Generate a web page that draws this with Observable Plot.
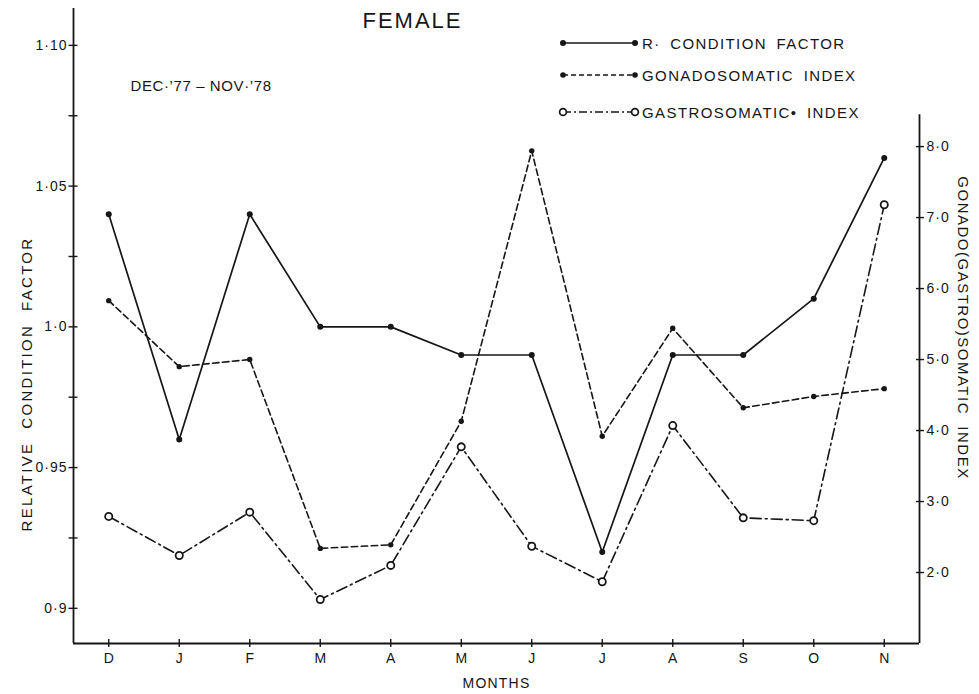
<!DOCTYPE html>
<html>
<head>
<meta charset="utf-8">
<script src="https://cdn.jsdelivr.net/npm/d3@7"></script>
<script src="https://cdn.jsdelivr.net/npm/@observablehq/plot@0.6"></script>
<style>
  html, body { margin: 0; padding: 0; background: #fff; }
  #wrap { position: relative; width: 979px; height: 694px; overflow: hidden; font-family: "Liberation Sans", Arial, sans-serif; color: #161616; }
  .lg { position: absolute; display: flex; align-items: center; height: 16px; font-size: 15px; letter-spacing: 1.4px; word-spacing: 4px; white-space: nowrap; }
  .lg svg { display: block; }
</style>
</head>
<body>
<div id="wrap">
  <div id="chart"></div>
</div>
<script>
// ---- data ----
const months = ["D", "J", "F", "M", "A", "M", "J", "J", "A", "S", "O", "N"];
const conditionFactor = [1.04, 0.96, 1.04, 1.00, 1.00, 0.99, 0.99, 0.92, 0.99, 0.99, 1.01, 1.06];
const gonadosomatic   = [5.83, 4.90, 5.00, 2.34, 2.39, 4.13, 7.94, 3.92, 5.44, 4.32, 4.48, 4.59];
const gastrosomatic   = [2.79, 2.24, 2.85, 1.62, 2.10, 3.77, 2.37, 1.87, 4.07, 2.77, 2.73, 7.18];

const leftTicks = [0.9, 0.95, 1.0, 1.05, 1.10];
const leftTickLabels = ["0·9", "0·95", "1·0", "1·05", "1·10"];
const leftMinorTicks = [0.925, 0.975, 1.025, 1.075];
const rightTicks = [2, 3, 4, 5, 6, 7, 8];
const rightTickLabels = ["2·0", "3·0", "4·0", "5·0", "6·0", "7·0", "8·0"];

const legendLabels = ["R· CONDITION FACTOR", "GONADOSOMATIC INDEX", "GASTROSOMATIC• INDEX"];
const titleText = "FEMALE";
const periodText = "DEC·’77 – NOV·’78";
const leftAxisLabel = "RELATIVE  CONDITION  FACTOR";
const rightAxisLabel = "GONADO(GASTRO)SOMATIC  INDEX";
const xAxisLabel = "MONTHS";

// ---- scales ----
const yDomain = [0.8875, 1.1131];
const rightDomainBottom = 1;           // right-axis value at the x axis
const rightToLeft = d3.scaleLinear().domain([1, 8]).range([0.8875, 0.8875 + 7 * 0.02522]);

const rows = months.map((m, i) => ({
  i,
  rcf: conditionFactor[i],
  gsi: rightToLeft(gonadosomatic[i]),
  gasi: rightToLeft(gastrosomatic[i])
}));

const leftLabelByVal = new Map(leftTicks.map((v, i) => [v, leftTickLabels[i]]));
const rightTickPos = rightTicks.map(v => rightToLeft(v));
const rightLabelByPos = new Map(rightTickPos.map((p, i) => [p, rightTickLabels[i]]));
const idx = d3.range(months.length);

const ink = "#161616";
const font = "Liberation Sans, Arial, sans-serif";

const chart = Plot.plot({
  width: 979,
  height: 694,
  marginTop: 8,
  marginRight: 60,
  marginBottom: 51,
  marginLeft: 73,
  x: { type: "linear", domain: [-0.5, months.length - 0.5] },
  y: { domain: yDomain },
  style: { fontFamily: font, fontSize: "14px", color: ink, background: "#fff", overflow: "visible" },
  marks: [
    // axis lines
    Plot.ruleX([-0.5], { stroke: ink, strokeWidth: 1.8 }),
    Plot.ruleX([months.length - 0.5], { y1: rightToLeft(rightDomainBottom), y2: rightToLeft(8.45), stroke: ink, strokeWidth: 1.8 }),
    Plot.ruleY([yDomain[0]], { stroke: ink, strokeWidth: 1.8 }),

    // left axis: crossing ticks + labels
    Plot.axisY(leftTicks.concat(leftMinorTicks), { anchor: "left", tickSize: 9, dx: 4.5, tickFormat: () => "", label: null, stroke: ink, strokeWidth: 1.4 }),
    Plot.axisY(leftTicks, { anchor: "left", tickSize: 0, tickPadding: 6, tickFormat: d => leftLabelByVal.get(d), label: null, fill: ink, fontSize: 14, className: "ls1" }),

    // right axis: crossing ticks + labels
    Plot.axisY(rightTickPos, { anchor: "right", tickSize: 8, dx: -4, tickFormat: () => "", label: null, stroke: ink, strokeWidth: 1.4 }),
    Plot.axisY(rightTickPos, { anchor: "right", tickSize: 0, tickPadding: 7, tickFormat: d => rightLabelByPos.get(d), label: null, fill: ink, fontSize: 14, className: "ls1" }),

    // bottom axis: crossing ticks + labels
    Plot.axisX(idx, { anchor: "bottom", tickSize: 8, dy: -4, tickFormat: () => "", label: null, stroke: ink, strokeWidth: 1.4 }),
    Plot.axisX(idx, { anchor: "bottom", tickSize: 0, tickPadding: 10, tickFormat: i => months[i], label: null, fill: ink, fontSize: 14 }),

    // axis titles
    Plot.text([xAxisLabel], { frameAnchor: "bottom", dy: 40, fontSize: 14, fill: ink, textAnchor: "middle", lineAnchor: "middle", className: "ls12" }),
    Plot.text([leftAxisLabel], { frameAnchor: "left", rotate: -90, dx: -46, dy: 58, fontSize: 15, fill: ink, textAnchor: "middle", lineAnchor: "middle", className: "ls23" }),
    Plot.text([rightAxisLabel], { frameAnchor: "right", rotate: 90, dx: 43, dy: 2, fontSize: 15, fill: ink, textAnchor: "middle", lineAnchor: "middle", className: "ls15" }),

    // title and period
    Plot.text([titleText], { frameAnchor: "top-left", dx: 339, dy: 12, fontSize: 22, fill: ink, textAnchor: "middle", lineAnchor: "middle", className: "ls2" }),
    Plot.text([periodText], { frameAnchor: "top-left", dx: 57, dy: 78, fontSize: 15, fill: ink, textAnchor: "start", lineAnchor: "middle", className: "ls06" }),

    // series lines
    Plot.line(rows, { x: "i", y: "rcf", stroke: ink, strokeWidth: 1.7 }),
    Plot.line(rows, { x: "i", y: "gsi", stroke: ink, strokeWidth: 1.6, strokeDasharray: "6.5,3.5" }),
    Plot.line(rows, { x: "i", y: "gasi", stroke: ink, strokeWidth: 1.6, strokeDasharray: "11,4,2,4" }),

    // series points
    Plot.dot(rows, { x: "i", y: "rcf", r: 3, fill: ink, stroke: "none" }),
    Plot.dot(rows, { x: "i", y: "gsi", r: 2.7, fill: ink, stroke: "none" }),
    Plot.dot(rows, { x: "i", y: "gasi", r: 3.6, fill: "#fff", stroke: ink, strokeWidth: 1.8 })
  ]
});

// letter-spacing per text group
const spacing = { ls1: "1px", ls12: "1.2px", ls23: "2.3px", ls15: "1.5px", ls2: "2px", ls06: "0.6px" };
Object.entries(spacing).forEach(([cls, v]) => {
  chart.querySelectorAll("." + cls + " text, text." + cls).forEach(t => { t.style.letterSpacing = v; });
});
document.getElementById("chart").appendChild(chart);

// ---- legend (inside the plot area, upper right) ----
const wrap = document.getElementById("wrap");
const legendRowsY = [43, 75, 112];
const legendStyles = [
  { dash: null, open: false, r: 3 },
  { dash: "5,3", open: false, r: 2.8 },
  { dash: "8,3,2,3", open: true, r: 3.4 }
];
legendLabels.forEach((label, k) => {
  const row = document.createElement("div");
  row.className = "lg";
  row.style.left = "557px";
  row.style.top = (legendRowsY[k] - 8) + "px";
  const st = legendStyles[k];
  const ns = "http://www.w3.org/2000/svg";
  const svg = document.createElementNS(ns, "svg");
  svg.setAttribute("width", 84); svg.setAttribute("height", 16);
  const line = document.createElementNS(ns, "line");
  line.setAttribute("x1", 6); line.setAttribute("x2", 78);
  line.setAttribute("y1", 8); line.setAttribute("y2", 8);
  line.setAttribute("stroke", ink); line.setAttribute("stroke-width", 1.6);
  if (st.dash) line.setAttribute("stroke-dasharray", st.dash);
  svg.appendChild(line);
  [6, 78].forEach(cx => {
    const c = document.createElementNS(ns, "circle");
    c.setAttribute("cx", cx); c.setAttribute("cy", 8); c.setAttribute("r", st.r);
    if (st.open) { c.setAttribute("fill", "#fff"); c.setAttribute("stroke", ink); c.setAttribute("stroke-width", 1.7); }
    else c.setAttribute("fill", ink);
    svg.appendChild(c);
  });
  row.appendChild(svg);
  const span = document.createElement("span");
  span.textContent = label;
  span.style.marginLeft = "1px";
  row.appendChild(span);
  wrap.appendChild(row);
});
</script>
</body>
</html>
